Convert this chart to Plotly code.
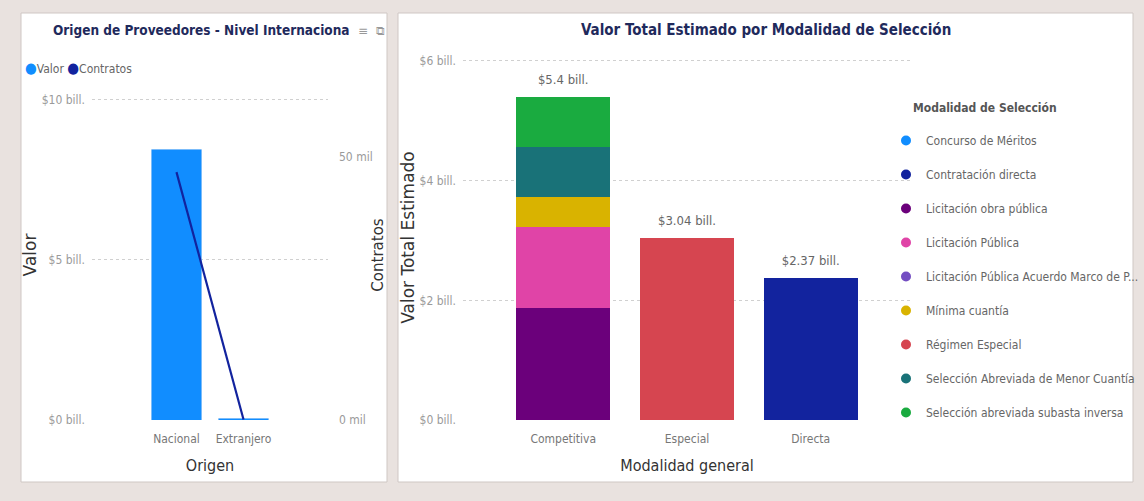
import plotly.graph_objects as go

# ---------------- data ----------------
origen_cats = ["Nacional", "Extranjero"]
origen_valor = [8.45, 0.06]          # bill. (billones de pesos)
origen_contratos = [47.1, 0.1]       # mil contratos
origen_series = ["Valor", "Contratos"]
origen_colors = ["#118DFF", "#12239E"]
valor_ticks = [0, 5, 10]
valor_ticktext = ["$0 bill.", "$5 bill.", "$10 bill."]
contratos_ticks = [0, 50]
contratos_ticktext = ["0 mil", "50 mil"]

modalidad_cats = ["Competitiva", "Especial", "Directa"]
modalidad_names = [
    "Concurso de Méritos",
    "Contratación directa",
    "Licitación obra pública",
    "Licitación Pública",
    "Licitación Pública Acuerdo Marco de P...",
    "Mínima cuantía",
    "Régimen Especial",
    "Selección Abreviada de Menor Cuantía",
    "Selección abreviada subasta inversa",
]
# values per modalidad general [Competitiva, Especial, Directa], bill.
modalidad_values = [
    [0.0, 0.0, 0.0],
    [0.0, 0.0, 2.37],
    [1.88, 0.0, 0.0],
    [1.35, 0.0, 0.0],
    [0.0, 0.0, 0.0],
    [0.50, 0.0, 0.0],
    [0.0, 3.04, 0.0],
    [0.84, 0.0, 0.0],
    [0.83, 0.0, 0.0],
]
modalidad_colors = ["#118DFF", "#12239E", "#6B007B", "#E044A7", "#744EC2",
                    "#D9B300", "#D64550", "#197278", "#1AAB40"]
total_labels = ["$5.4 bill.", "$3.04 bill.", "$2.37 bill."]
mod_ticks = [0, 2, 4, 6]
mod_ticktext = ["$0 bill.", "$2 bill.", "$4 bill.", "$6 bill."]

# ---------------- layout helpers ----------------
W, H = 1144, 501
def px_x(p): return p / W
def px_y(p): return 1 - p / H

NARROW = "DejaVu Sans Condensed, Liberation Sans, sans-serif"
WIDE = "DejaVu Sans, Verdana, sans-serif"
TITLE_C = "#1F2A5C"
TICK_C = "#9A9A9A"
AX_C = "#333333"
GRID_C = "#D0D0D0"

fig = go.Figure()

# ---- left chart ----
fig.add_trace(go.Bar(x=origen_cats, y=origen_valor, marker_color=origen_colors[0],
                     width=0.75, xaxis="x", yaxis="y", showlegend=False,
                     name=origen_series[0]))
fig.add_trace(go.Scatter(x=origen_cats, y=origen_contratos, mode="lines",
                         line=dict(color=origen_colors[1], width=2.2),
                         xaxis="x", yaxis="y2", showlegend=False, name=origen_series[1]))

# ---- right chart ----
for i, nm in enumerate(modalidad_names):
    fig.add_trace(go.Bar(x=modalidad_cats, y=modalidad_values[i], name=nm,
                         marker=dict(color=modalidad_colors[i], line=dict(width=0)),
                         width=0.76, xaxis="x2", yaxis="y3", showlegend=False))
    fig.add_trace(go.Scatter(x=[None], y=[None], mode="markers", name=nm,
                             marker=dict(symbol="circle", size=10, color=modalidad_colors[i]),
                             legend="legend", legendgroup=nm,
                             xaxis="x2", yaxis="y3"))
totals = [sum(v[j] for v in modalidad_values) for j in range(len(modalidad_cats))]
fig.add_trace(go.Scatter(x=modalidad_cats, y=totals, mode="markers+text", text=total_labels,
                         textposition="top center",
                         marker=dict(size=14, color="rgba(0,0,0,0)"),
                         textfont=dict(family=NARROW, size=13, color="#666666"),
                         xaxis="x2", yaxis="y3", showlegend=False, cliponaxis=False,
                         hoverinfo="skip"))

shapes = [
    dict(type="rect", xref="paper", yref="paper",
         x0=px_x(21), x1=px_x(387), y0=px_y(482), y1=px_y(13),
         fillcolor="white", line=dict(color="#CFC7C4", width=1), layer="below"),
    dict(type="rect", xref="paper", yref="paper",
         x0=px_x(398), x1=px_x(1133), y0=px_y(482), y1=px_y(13),
         fillcolor="white", line=dict(color="#CFC7C4", width=1), layer="below"),
]

# compact legend for the left chart (circle + label)
left_legend = " ".join(
    f"<span style='color:{c};font-size:15px'>●</span>{n}" for n, c in zip(origen_series, origen_colors)
)

annotations = [
    dict(text="<b>Origen de Proveedores - Nivel Internaciona</b>", x=px_x(201), y=px_y(30),
         xref="paper", yref="paper", showarrow=False, xanchor="center", yanchor="middle",
         font=dict(family=NARROW, size=13.5, color=TITLE_C)),
    dict(text="≡", x=px_x(363), y=px_y(31), xref="paper", yref="paper", showarrow=False,
         xanchor="center", yanchor="middle",
         font=dict(family=WIDE, size=12, color="#999999")),
    dict(text="⧉", x=px_x(380), y=px_y(31), xref="paper", yref="paper", showarrow=False,
         xanchor="center", yanchor="middle",
         font=dict(family=WIDE, size=12, color="#999999")),
    dict(text="<b>Valor Total Estimado por Modalidad de Selección</b>", x=px_x(766), y=px_y(30),
         xref="paper", yref="paper", showarrow=False, xanchor="center", yanchor="middle",
         font=dict(family=NARROW, size=15, color=TITLE_C)),
    dict(text="<b>Modalidad de Selección</b>", x=px_x(911), y=px_y(108),
         xref="paper", yref="paper", showarrow=False, xanchor="left", yanchor="middle",
         font=dict(family=NARROW, size=12, color="#555555")),
    dict(text=left_legend, x=px_x(23), y=px_y(68),
         xref="paper", yref="paper", showarrow=False, xanchor="left", yanchor="middle",
         font=dict(family=NARROW, size=12, color="#666666")),
]

fig.update_layout(
    width=W, height=H, margin=dict(l=0, r=0, t=0, b=0, autoexpand=False),
    paper_bgcolor="#E9E2DF", plot_bgcolor="rgba(0,0,0,0)",
    barmode="stack", bargap=0.24,
    shapes=shapes, annotations=annotations,
    xaxis=dict(domain=[px_x(92), px_x(328)], range=[-1.26, 2.26], anchor="y",
               tickfont=dict(family=NARROW, size=12, color="#777777"),
               title=dict(text="Origen", font=dict(family=NARROW, size=16, color=AX_C), standoff=14),
               showgrid=False, zeroline=False, showline=False, ticks="", automargin=False,
               ticklabelstandoff=10),
    yaxis=dict(domain=[px_y(420), px_y(90)], range=[0, 10.3], anchor="x",
               tickvals=valor_ticks, ticktext=valor_ticktext,
               tickfont=dict(family=NARROW, size=12, color=TICK_C),
               title=dict(text="Valor", font=dict(family=WIDE, size=17, color=AX_C), standoff=0),
               showgrid=True, gridcolor=GRID_C, griddash="dot", gridwidth=1,
               zeroline=False, ticks="", ticklabelstandoff=6, automargin=False),
    yaxis2=dict(overlaying="y", side="right", anchor="x", range=[0, 62.7],
                tickvals=contratos_ticks, ticktext=contratos_ticktext,
                tickfont=dict(family=NARROW, size=12, color=TICK_C),
                title=dict(text="Contratos", font=dict(family=WIDE, size=15, color=AX_C), standoff=0),
                showgrid=False, zeroline=False, ticks="", ticklabelstandoff=10, automargin=False),
    xaxis2=dict(domain=[px_x(463), px_x(911)], range=[-0.81, 2.81], anchor="y3",
                tickfont=dict(family=NARROW, size=12, color="#777777"),
                title=dict(text="Modalidad general", font=dict(family=NARROW, size=16, color=AX_C), standoff=14),
                showgrid=False, zeroline=False, showline=False, ticks="", automargin=False,
                ticklabelstandoff=10),
    yaxis3=dict(domain=[px_y(420), px_y(55)], range=[0, 6.1], anchor="x2",
                tickvals=mod_ticks, ticktext=mod_ticktext,
                tickfont=dict(family=NARROW, size=12, color=TICK_C),
                title=dict(text="Valor Total Estimado", font=dict(family=WIDE, size=17, color=AX_C), standoff=0),
                showgrid=True, gridcolor=GRID_C, griddash="dot", gridwidth=1,
                zeroline=False, ticks="", ticklabelstandoff=6, automargin=False),
    legend=dict(x=px_x(886), y=px_y(126), xanchor="left", yanchor="top",
                font=dict(family=NARROW, size=12, color="#666666"),
                tracegroupgap=15, itemwidth=30, bgcolor="rgba(0,0,0,0)"),
)

fig.write_html("out.html", config={"displayModeBar": False},
               post_script="document.body.style.margin='0';document.body.style.overflow='hidden';")
